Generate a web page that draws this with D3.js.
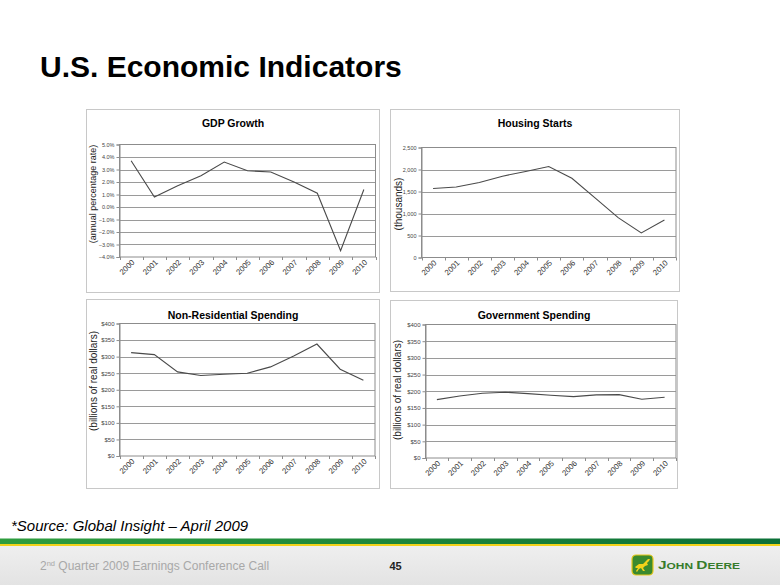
<!DOCTYPE html>
<html>
<head>
<meta charset="utf-8">
<script src="https://cdn.jsdelivr.net/npm/d3@7"></script>
<style>
  html, body { margin: 0; padding: 0; background: #ffffff; }
  svg { display: block; font-family: "Liberation Sans", Arial, sans-serif; }
</style>
</head>
<body>
<svg id="chart" width="780" height="585"></svg>
<script>
// ---------------- DATA ----------------
const years = ["2000","2001","2002","2003","2004","2005","2006","2007","2008","2009","2010"];
const gdpGrowth = [3.7, 0.8, 1.7, 2.5, 3.6, 2.9, 2.8, 2.0, 1.1, -3.5, 1.4];
const housingStarts = [1569, 1603, 1705, 1848, 1956, 2068, 1801, 1355, 906, 560, 850];
const nonResidentialSpending = [312, 306, 254, 243, 247, 250, 269, 302, 338, 262, 229];
const governmentSpending = [175, 186, 194, 197, 193, 188, 184, 189, 190, 176, 182];

const gdpTicks = [-4, -3, -2, -1, 0, 1, 2, 3, 4, 5];
const housingTicks = [0, 500, 1000, 1500, 2000, 2500];
const dollarTicks = [0, 50, 100, 150, 200, 250, 300, 350, 400];

const chartTitles = ["GDP Growth", "Housing Starts", "Non-Residential Spending", "Government Spending"];
const axisTitles = ["(annual percentage rate)", "(thousands)", "(billions of real dollars)", "(billions of real dollars)"];

// ---------------- LAYOUT ----------------
const svg = d3.select("#chart");
const FONT = '"Liberation Sans", Arial, sans-serif';

const fmtPct = d => d3.format(".1f")(d) + "%";
const fmtK = d3.format(",");
const fmtUsd = d => "$" + d;

const panels = [
  { title: chartTitles[0], values: gdpGrowth, ticks: gdpTicks, fmt: fmtPct, domain: [-4, 5],
    ylabel: axisTitles[0], ylabelSize: 9, box: [86.5, 109.5, 293, 183], plot: [119.5, 144.5, 256, 112.5],
    titleY: 126.5, ylabelX: 93, ylabelY: 194, tickSize: 5.5 },
  { title: chartTitles[1], values: housingStarts, ticks: housingTicks, fmt: fmtK, domain: [0, 2500],
    ylabel: axisTitles[1], ylabelSize: 10, box: [390.5, 109.5, 289, 182], plot: [421.5, 147.5, 254.5, 110],
    titleY: 126.5, ylabelX: 398, ylabelY: 204, tickSize: 5.5 },
  { title: chartTitles[2], values: nonResidentialSpending, ticks: dollarTicks, fmt: fmtUsd, domain: [0, 400],
    ylabel: axisTitles[2], ylabelSize: 10, box: [86.5, 299.5, 293, 189], plot: [119.5, 323.5, 255.5, 132.5],
    titleY: 319, ylabelX: 93, ylabelY: 381, tickSize: 6 },
  { title: chartTitles[3], values: governmentSpending, ticks: dollarTicks, fmt: fmtUsd, domain: [0, 400],
    ylabel: axisTitles[3], ylabelSize: 10, box: [390.5, 300.5, 287, 188], plot: [425.5, 324.5, 250.5, 133.5],
    titleY: 318.5, ylabelX: 397, ylabelY: 390, tickSize: 6 }
];

// ---------------- MAIN TITLE ----------------
svg.append("text")
  .attr("x", 40).attr("y", 77)
  .attr("font-family", FONT).attr("font-size", 30).attr("font-weight", "bold")
  .attr("fill", "#000").text("U.S. Economic Indicators");

// ---------------- PANELS ----------------
panels.forEach(p => {
  const [bx, by, bw, bh] = p.box;
  const [px, py, pw, ph] = p.plot;
  const g = svg.append("g");

  g.append("rect").attr("x", bx).attr("y", by).attr("width", bw).attr("height", bh)
    .attr("fill", "#fff").attr("stroke", "#c8c8c8").attr("stroke-width", 1);

  g.append("text").attr("x", bx + bw / 2).attr("y", p.titleY)
    .attr("text-anchor", "middle").attr("font-family", FONT)
    .attr("font-size", 10.5).attr("font-weight", "bold").attr("fill", "#000").text(p.title);

  const x = d3.scaleBand().domain(years).range([px, px + pw]).padding(0);
  const y = d3.scaleLinear().domain(p.domain).range([py + ph, py]);

  // gridlines
  g.append("g").selectAll("line").data(p.ticks.filter(t => t !== p.domain[0] && t !== p.domain[1]))
    .join("line")
    .attr("x1", px).attr("x2", px + pw)
    .attr("y1", d => Math.round(y(d)) + 0.5).attr("y2", d => Math.round(y(d)) + 0.5)
    .attr("stroke", "#9a9a9a").attr("stroke-width", 1);

  // plot border
  g.append("rect").attr("x", px).attr("y", py).attr("width", pw).attr("height", ph)
    .attr("fill", "none").attr("stroke", "#8c8c8c").attr("stroke-width", 1);

  // y axis
  const yAxis = d3.axisLeft(y).tickValues(p.ticks).tickFormat(p.fmt).tickSize(3).tickPadding(2);
  const ya = g.append("g").attr("transform", `translate(${px},0)`).call(yAxis);
  ya.select(".domain").attr("stroke", "#8c8c8c");
  ya.selectAll(".tick line").attr("stroke", "#8c8c8c");
  ya.selectAll(".tick text").attr("font-family", FONT).attr("font-size", p.tickSize).attr("fill", "#444");

  // x axis: labels at category centres, ticks at category boundaries
  const xAxis = d3.axisBottom(x).tickSize(0).tickPadding(0);
  const xa = g.append("g").attr("transform", `translate(0,${py + ph})`).call(xAxis);
  xa.select(".domain").remove();
  xa.selectAll(".tick text")
    .attr("font-family", FONT).attr("font-size", 7.8).attr("fill", "#333")
    .attr("text-anchor", "end")
    .attr("transform", "translate(2,4) rotate(-45)")
    .attr("dy", "0.35em").attr("y", 0);
  const bounds = years.map(d => x(d)).concat([px + pw]);
  g.append("g").selectAll("line").data(bounds).join("line")
    .attr("x1", d => Math.round(d) + 0.5).attr("x2", d => Math.round(d) + 0.5)
    .attr("y1", py + ph).attr("y2", py + ph + 3)
    .attr("stroke", "#8c8c8c");

  // line
  const line = d3.line().x((d, i) => x(years[i]) + x.bandwidth() / 2).y(d => y(d));
  g.append("path").datum(p.values).attr("d", line)
    .attr("fill", "none").attr("stroke", "#4a4a4a").attr("stroke-width", 1.1);

  // y axis title
  g.append("text").attr("transform", `translate(${p.ylabelX},${p.ylabelY}) rotate(-90)`)
    .attr("text-anchor", "middle").attr("dy", "0.35em")
    .attr("font-family", FONT).attr("font-size", p.ylabelSize).attr("fill", "#222").text(p.ylabel);
});

// ---------------- SOURCE ----------------
svg.append("text").attr("x", 11).attr("y", 531)
  .attr("font-family", FONT).attr("font-size", 15).attr("font-style", "italic")
  .attr("fill", "#000").text("*Source: Global Insight \u2013 April 2009");

// ---------------- FOOTER ----------------
const defs = svg.append("defs");
const gg = defs.append("linearGradient").attr("id", "greenBar").attr("x1", 0).attr("x2", 1).attr("y1", 0).attr("y2", 0);
gg.append("stop").attr("offset", "0%").attr("stop-color", "#2e9d3e");
gg.append("stop").attr("offset", "100%").attr("stop-color", "#0b7038");
const fg = defs.append("linearGradient").attr("id", "footBg").attr("x1", 0).attr("x2", 0).attr("y1", 0).attr("y2", 1);
fg.append("stop").attr("offset", "0%").attr("stop-color", "#efefef");
fg.append("stop").attr("offset", "100%").attr("stop-color", "#e3e3e3");

svg.append("rect").attr("x", 0).attr("y", 546).attr("width", 780).attr("height", 39).attr("fill", "url(#footBg)");
svg.append("rect").attr("x", 0).attr("y", 538.5).attr("width", 780).attr("height", 5.5).attr("fill", "url(#greenBar)");
svg.append("rect").attr("x", 0).attr("y", 544).attr("width", 780).attr("height", 2).attr("fill", "#f2d21a");

const ft = svg.append("text").attr("x", 40).attr("y", 569.5)
  .attr("font-family", FONT).attr("font-size", 12).attr("fill", "#a8a8a8");
ft.append("tspan").text("2");
ft.append("tspan").attr("font-size", 7.5).attr("dy", -4).text("nd");
ft.append("tspan").attr("dy", 4).text(" Quarter 2009 Earnings Conference Call");

svg.append("text").attr("x", 395.5).attr("y", 569.5).attr("text-anchor", "middle")
  .attr("font-family", FONT).attr("font-size", 11).attr("font-weight", "bold")
  .attr("fill", "#222").text("45");

// John Deere logo
const logo = svg.append("g").attr("transform", "translate(632,555)");
logo.append("rect").attr("x", 0).attr("y", 0).attr("width", 21).attr("height", 20).attr("rx", 4)
  .attr("fill", "#3a8a2e").attr("stroke", "#e8c81a").attr("stroke-width", 1.2);
logo.append("path")
  .attr("d", "M3,12 L7,9 L11,9 L14,6 L16,4 L18,4 L17,6 L15,8 L16,10 L13,11 L11,13 L13,16 L11,16 L9,13 L7,14 L5,17 L4,16 L6,13 L4,13 Z")
  .attr("fill", "#f2d21a");
const jd = svg.append("text").attr("x", 658).attr("y", 569)
  .attr("font-family", FONT).attr("font-weight", "bold").attr("fill", "#367c2b")
  .attr("textLength", 82).attr("lengthAdjust", "spacingAndGlyphs");
jd.append("tspan").attr("font-size", 11).text("J");
jd.append("tspan").attr("font-size", 8.5).text("OHN ");
jd.append("tspan").attr("font-size", 11).text("D");
jd.append("tspan").attr("font-size", 8.5).text("EERE");
</script>
</body>
</html>
